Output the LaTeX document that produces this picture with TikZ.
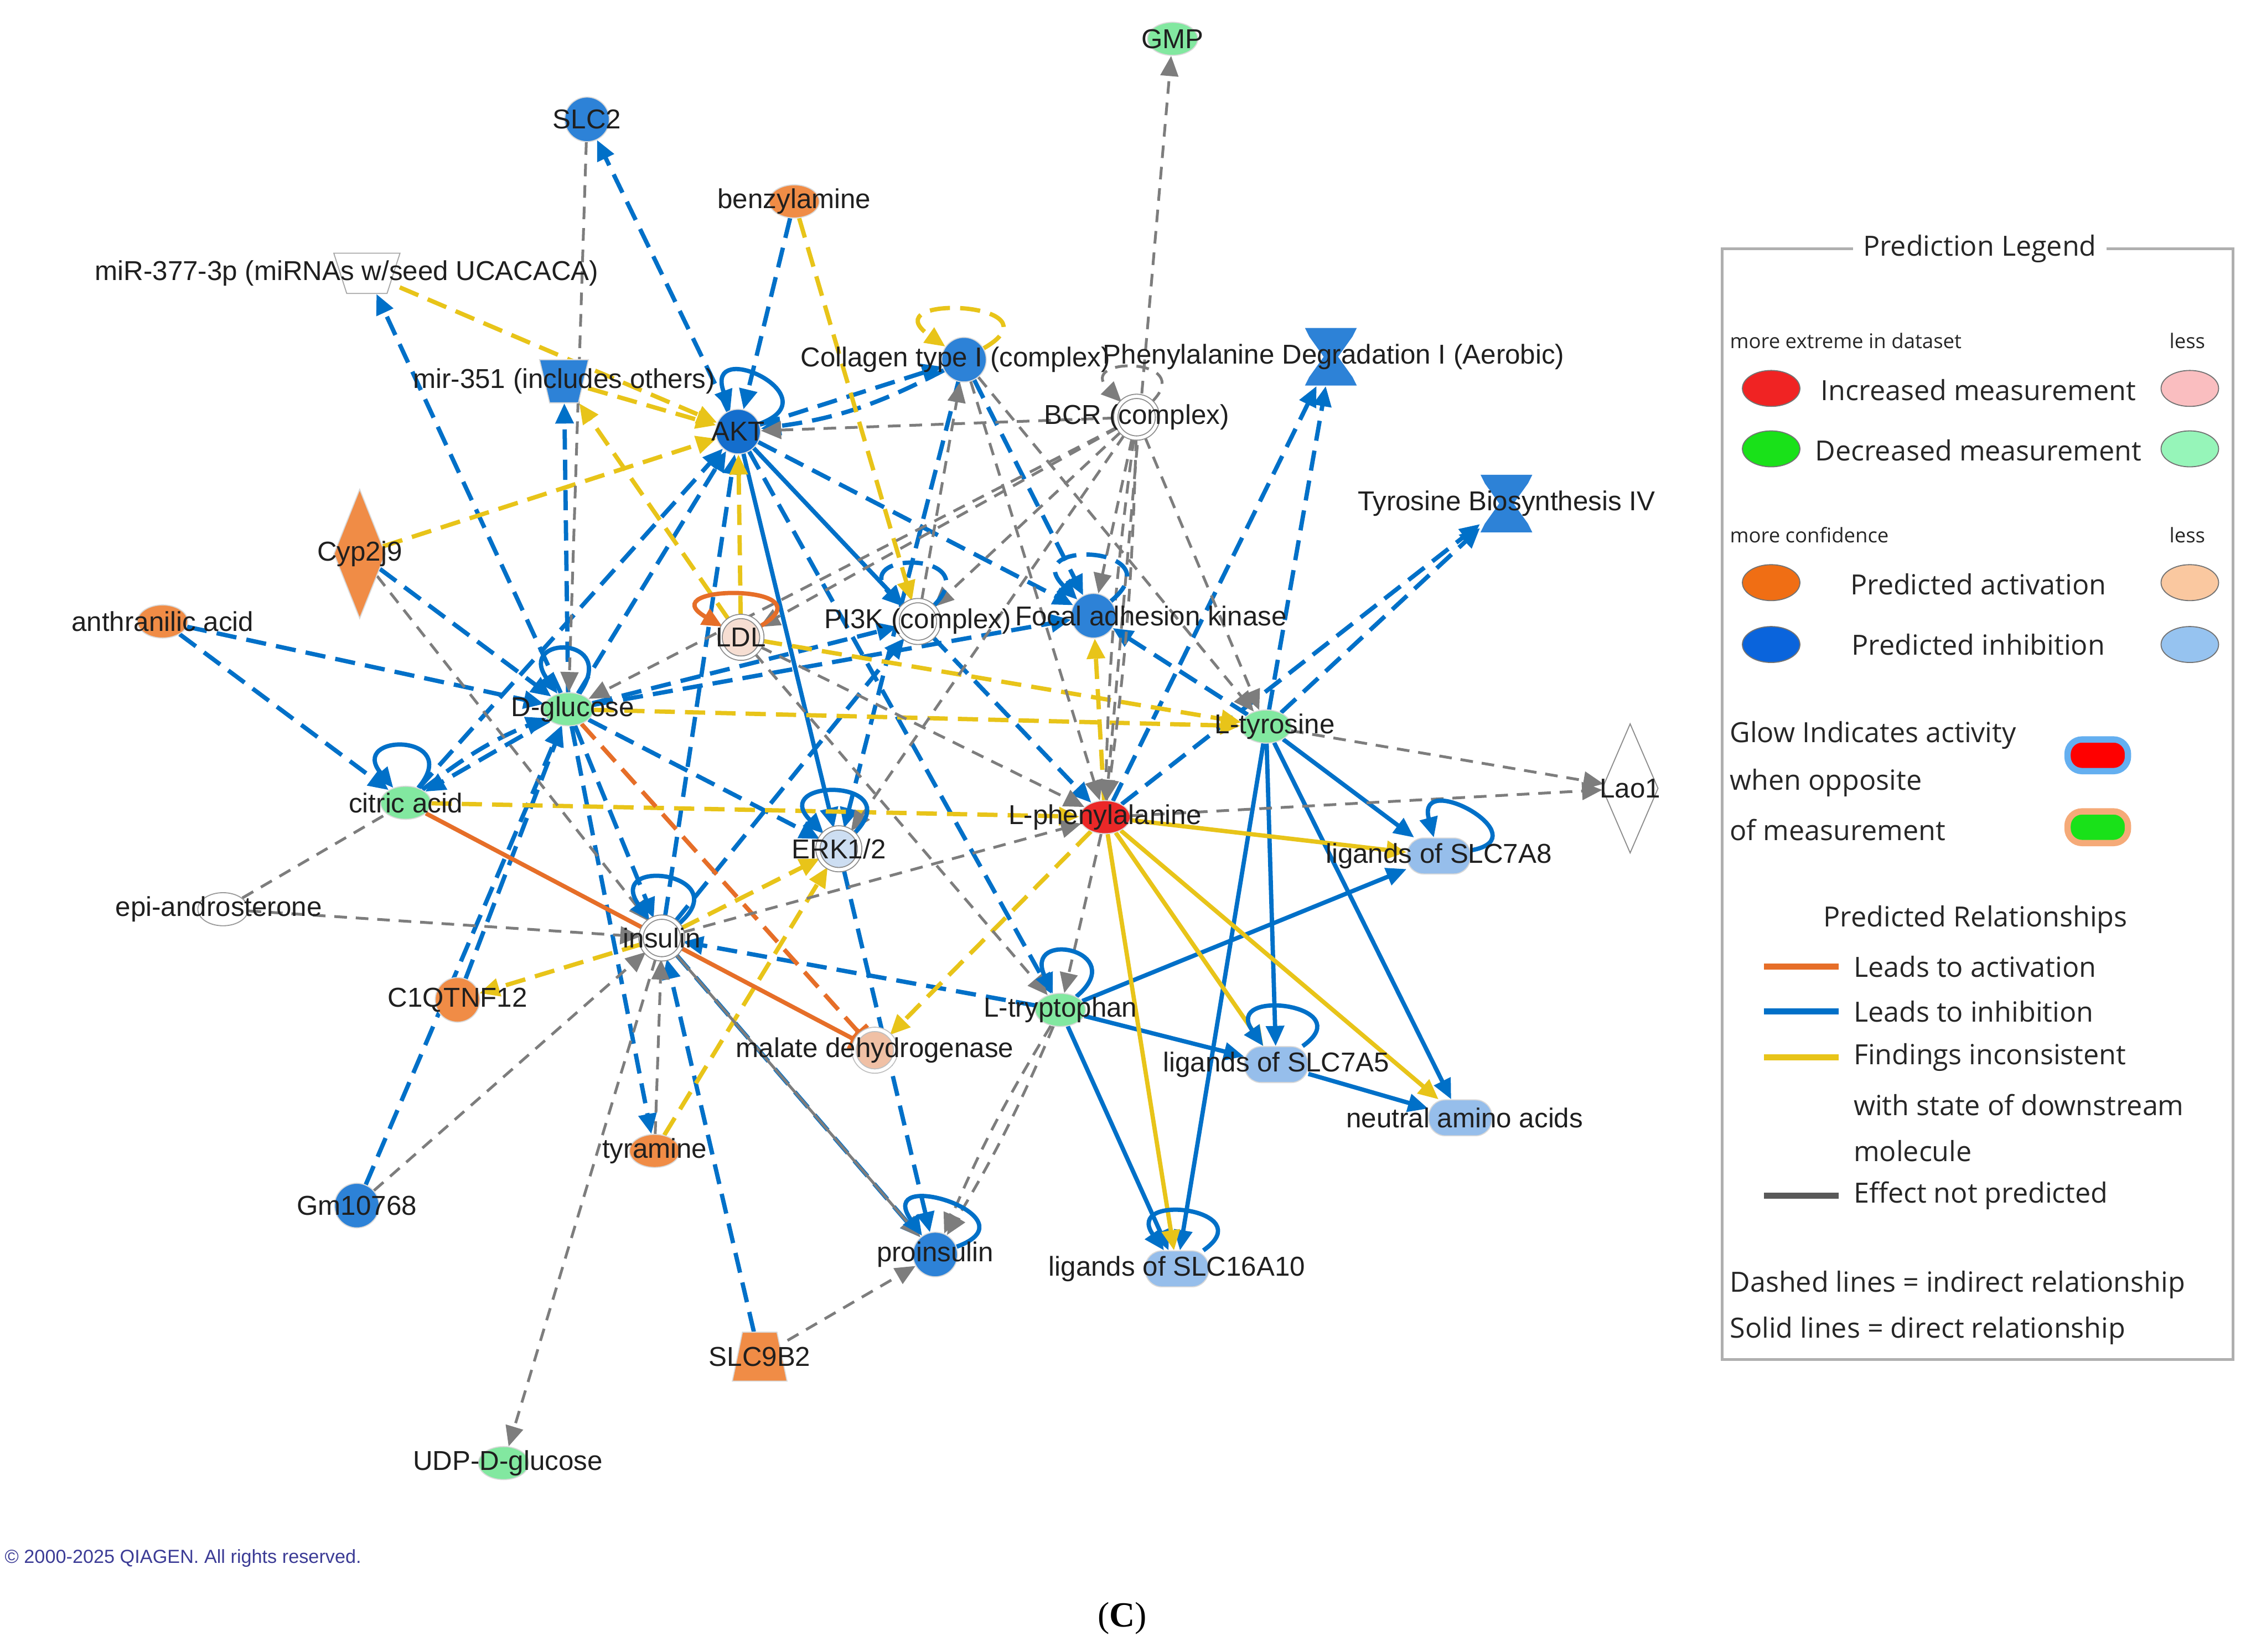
\documentclass[tikz,border=0pt]{standalone}
\usepackage{fontspec}
\setmainfont{Liberation Sans}
\newfontfamily\legfont{Open Sans}
\newfontfamily\capfont{Liberation Serif}
\usetikzlibrary{shapes,shapes.geometric,arrows.meta,positioning,calc}
\pgfdeclarelayer{background}
\pgfsetlayers{background,main}

\definecolor{eblue}{RGB}{0,112,200}
\definecolor{eyel}{RGB}{232,196,25}
\definecolor{eorg}{RGB}{230,110,40}
\definecolor{egray}{RGB}{125,125,125}
\definecolor{ndblue}{RGB}{20,110,205}
\definecolor{nblue}{RGB}{45,130,215}
\definecolor{nlblue}{RGB}{150,190,235}
\definecolor{nvlblue}{RGB}{205,222,242}
\definecolor{ngreen}{RGB}{130,232,160}
\definecolor{norange}{RGB}{240,140,70}
\definecolor{npeach}{RGB}{240,192,165}
\definecolor{nlpeach}{RGB}{246,222,210}
\definecolor{nred}{RGB}{235,40,40}
\definecolor{lred}{RGB}{240,35,35}
\definecolor{lpink}{RGB}{250,190,192}
\definecolor{lgreen}{RGB}{25,225,25}
\definecolor{llgreen}{RGB}{150,245,185}
\definecolor{lorange}{RGB}{240,110,20}
\definecolor{llorange}{RGB}{250,200,160}
\definecolor{lblue}{RGB}{10,100,220}
\definecolor{llblue}{RGB}{150,195,240}
\definecolor{glowblue}{RGB}{100,175,240}
\definecolor{gloworg}{RGB}{245,170,120}
\definecolor{copyblue}{RGB}{60,60,150}
\definecolor{legline}{RGB}{175,175,175}

\begin{document}
\begin{tikzpicture}[
    x=0.02cm, y=-0.02cm,
    >={Triangle[length=8pt,width=7pt]},
    lbl/.style={font=\fontsize{10.8}{12}\selectfont, text=black!88, inner sep=0pt},
    prot/.style={circle, minimum size=0.62cm, inner sep=0pt, draw=black!15},
    cplx/.style={circle, minimum size=0.58cm, inner sep=0pt, draw=black!45,
        double=white, double distance=1.3pt, fill=white},
    chem/.style={ellipse, minimum width=0.7cm, minimum height=0.46cm, inner sep=0pt, draw=black!15},
    group/.style={rectangle, rounded corners=0.23cm, minimum width=0.88cm,
        minimum height=0.5cm, inner sep=0pt, draw=black!15},
    diam/.style={diamond, minimum width=0.78cm, minimum height=1.8cm, inner sep=0pt, draw=black!45},
    glyph/.style={rectangle, minimum width=0.72cm, minimum height=0.8cm, inner sep=0pt},
    inhib/.style={draw=eblue, line width=1.7pt},
    activ/.style={draw=eorg, line width=1.7pt},
    incons/.style={draw=eyel, line width=1.7pt},
    nopred/.style={draw=egray, line width=1.1pt, dash pattern=on 5pt off 3.5pt},
    indir/.style={dash pattern=on 8pt off 4pt},
    legtext/.style={font=\legfont\fontsize{11}{13}\selectfont, text=black!85, inner sep=0pt},
    legsmall/.style={font=\legfont\fontsize{8}{9}\selectfont, text=black!85, inner sep=0pt},
    legov/.style={ellipse, minimum width=0.8cm, minimum height=0.5cm, inner sep=0pt, draw=black!55},
    glow/.style={rectangle, rounded corners=0.2cm, minimum width=0.84cm, minimum height=0.44cm,
        inner sep=0pt, line width=2.5pt}
    ]
    \useasboundingbox (0,0) rectangle (1568,1148);

    % pathway, microRNA and transporter glyphs
    \foreach \p in {(925,248),(1047,350)}
        \fill[nblue] \p ++(-18,-20) -- ++(36,0) -- ++(-3,6) -- ++(-10,14) -- ++(10,14)
            -- ++(3,6) -- ++(-36,0) -- ++(3,-6) -- ++(10,-14) -- ++(-10,-14) -- cycle;
    \filldraw[fill=white, draw=black!35] (255,190) ++(-23,-14) -- ++(46,0) -- ++(-9,28) -- ++(-28,0) -- cycle;
    \filldraw[fill=nblue, draw=black!15] (392,265) ++(-17,-15) -- ++(34,0) -- ++(-7,30) -- ++(-20,0) -- cycle;
    \filldraw[fill=norange, draw=black!15] (528,943) ++(-12,-17) -- ++(24,0) -- ++(7,34) -- ++(-38,0) -- cycle;

    % molecules
    \node[chem, fill=ngreen, label={[lbl]center:GMP}] (gmp) at (815,27) {};
    \node[prot, fill=nblue, label={[lbl]center:SLC2}] (slc2) at (408,83) {};
    \node[chem, fill=norange, label={[lbl]center:benzylamine}] (benz) at (552,140) {};
    \node[glyph, minimum width=0.9cm, minimum height=0.56cm,
        label={[lbl,xshift=-0.28cm]center:{miR-377-3p (miRNAs w/seed UCACACA)}}] (mir377) at (255,190) {};
    \node[glyph, minimum width=0.66cm, minimum height=0.6cm, label={[lbl]center:{mir-351 (includes others)}}] (mir351) at (392,265) {};
    \node[prot, fill=ndblue, label={[lbl]center:AKT}] (akt) at (513,300) {};
    \node[prot, fill=nblue, label={[lbl,xshift=-0.12cm]center:{Collagen type I (complex)}}] (coll) at (670,250) {};
    \node[glyph, label={[lbl,xshift=0.04cm]center:{Phenylalanine Degradation I (Aerobic)}}] (phedeg) at (925,248) {};
    \node[cplx, label={[lbl]center:{BCR (complex)}}] (bcr) at (790,290) {};
    \node[glyph, label={[lbl]center:{Tyrosine Biosynthesis IV}}] (tyrbio) at (1047,350) {};
    \node[diam, fill=norange, draw=black!15, minimum width=0.72cm, label={[lbl]center:Cyp2j9}] (cyp) at (250,385) {};
    \node[chem, fill=norange, label={[lbl]center:{anthranilic acid}}] (anth) at (113,432) {};
    \node[cplx, fill=nlpeach, label={[lbl]center:LDL}] (ldl) at (515,443) {};
    \node[cplx, label={[lbl]center:{PI3K (complex)}}] (pi3k) at (638,432) {};
    \node[prot, fill=nblue, label={[lbl,xshift=0.8cm]center:{Focal adhesion kinase}}] (fak) at (760,428) {};
    \node[chem, fill=ngreen, label={[lbl,xshift=0.06cm]center:D-glucose}] (dglu) at (395,493) {};
    \node[chem, fill=ngreen, label={[lbl,xshift=0.12cm]center:L-tyrosine}] (ltyr) at (880,505) {};
    \node[diam, fill=white, label={[lbl]center:Lao1}] (lao1) at (1133,548) {};
    \node[chem, fill=ngreen, label={[lbl]center:{citric acid}}] (citric) at (282,558) {};
    \node[cplx, fill=nvlblue, label={[lbl]center:ERK1/2}] (erk) at (583,590) {};
    \node[chem, fill=nred, label={[lbl]center:L-phenylalanine}] (lphe) at (768,568) {};
    \node[group, fill=nlblue, label={[lbl]center:{ligands of SLC7A8}}] (slc7a8) at (1000,595) {};
    \node[chem, fill=white, draw=black!40, label={[lbl,xshift=-0.06cm]center:epi-androsterone}] (epi) at (155,632) {};
    \node[cplx, label={[lbl]center:insulin}] (ins) at (460,652) {};
    \node[prot, fill=norange, label={[lbl]center:C1QTNF12}] (c1q) at (318,695) {};
    \node[chem, fill=ngreen, label={[lbl]center:L-tryptophan}] (ltrp) at (737,702) {};
    \node[cplx, fill=npeach, draw=black!25, label={[lbl]center:{malate dehydrogenase}}] (mdh) at (608,730) {};
    \node[group, fill=nlblue, label={[lbl]center:{ligands of SLC7A5}}] (slc7a5) at (887,740) {};
    \node[group, fill=nlblue, label={[lbl,xshift=0.06cm]center:{neutral amino acids}}] (naa) at (1015,777) {};
    \node[chem, fill=norange, label={[lbl]center:tyramine}] (tyra) at (455,800) {};
    \node[prot, fill=nblue, label={[lbl]center:Gm10768}] (gm) at (248,838) {};
    \node[prot, fill=nblue, label={[lbl]center:proinsulin}] (proins) at (650,872) {};
    \node[group, fill=nlblue, label={[lbl]center:{ligands of SLC16A10}}] (slc16) at (818,882) {};
    \node[glyph, minimum width=0.76cm, minimum height=0.68cm, label={[lbl]center:SLC9B2}] (slc9b2) at (528,943) {};
    \node[chem, fill=ngreen, label={[lbl,xshift=0.06cm]center:UDP-D-glucose}] (udp) at (350,1017) {};

    \begin{pgfonlayer}{background}
    \fill[white] (0,0) rectangle (1568,1148);
    % leads to inhibition, indirect
    \draw[inhib,indir,->] (akt) -- (slc2);
    \draw[inhib,indir,->] (dglu) -- (mir377);
    \draw[inhib,indir,->] (dglu) -- (mir351);
    \draw[inhib,indir,->] (cyp) -- (dglu);
    \draw[inhib,indir,->] (anth) -- (dglu);
    \draw[inhib,indir,->] (anth) -- (citric);
    \draw[inhib,indir,->] (benz) -- (akt);
    \draw[inhib,indir,->] (akt) -- (coll);
    \draw[inhib,indir,->] (coll) to[bend left=10] (akt);
    \draw[inhib,indir,->] (akt) -- (fak);
    \draw[inhib,indir,->] (dglu) -- (akt);
    \draw[inhib,indir,->] (citric) -- (akt);
    \draw[inhib,indir,->] (ins) -- (akt);
    \draw[inhib,indir,->] (dglu) -- (citric);
    \draw[inhib,indir,->] (citric) to[bend left=8] (dglu);
    \draw[inhib,indir,->] (dglu) -- (ins);
    \draw[inhib,indir,->] (dglu) -- (erk);
    \draw[inhib,indir,->] (dglu) -- (pi3k);
    \draw[inhib,indir,->] (dglu) -- (fak);
    \draw[inhib,indir,->] (ins) -- (pi3k);
    \draw[inhib,indir,->] (c1q) -- (dglu);
    \draw[inhib,indir,->] (gm) -- (dglu);
    \draw[inhib,indir,->] (dglu) -- (tyra);
    \draw[inhib,indir,->] (slc9b2) -- (ins);
    \draw[inhib,indir,->] (ins) -- (proins);
    \draw[inhib,indir,->] (erk) -- (proins);
    \draw[inhib,indir,->] (ltrp) -- (ins);
    \draw[inhib,indir,->] (coll) -- (fak);
    \draw[inhib,indir,->] (coll) -- (erk);
    \draw[inhib,indir,->] (pi3k) -- (lphe);
    \draw[inhib,indir,->] (akt) -- (ltrp);
    \draw[inhib,indir,->] (ltyr) -- (fak);
    \draw[inhib,indir,->] (ltyr) -- (phedeg);
    \draw[inhib,indir,->] (lphe) -- (phedeg);
    \draw[inhib,indir,->] (ltyr) -- (tyrbio);
    \draw[inhib,indir,->] (lphe) -- (tyrbio);
    % leads to inhibition, direct
    \draw[inhib,->] (akt) -- (pi3k);
    \draw[inhib,->] (akt) -- (erk);
    \draw[inhib,->] (ltyr) -- (slc7a8);
    \draw[inhib,->] (ltyr) -- (slc7a5);
    \draw[inhib,->] (ltyr) -- (slc16);
    \draw[inhib,->] (ltyr) -- (naa);
    \draw[inhib,->] (ltrp) -- (slc7a8);
    \draw[inhib,->] (ltrp) -- (slc7a5);
    \draw[inhib,->] (ltrp) -- (slc16);
    \draw[inhib,->] (slc7a5) -- (naa);
    % findings inconsistent
    \draw[incons,indir,->] (mir377) -- (akt);
    \draw[incons,indir,->] (mir351) -- (akt);
    \draw[incons,indir,->] (cyp) -- (akt);
    \draw[incons,indir,->] (ldl) -- (mir351);
    \draw[incons,indir,->] (benz) -- (pi3k);
    \draw[incons,indir,->] (ldl) -- (akt);
    \draw[incons,indir,->] (tyra) -- (erk);
    \draw[incons,indir,->] (ins) -- (c1q);
    \draw[incons,indir,->] (ins) -- (erk);
    \draw[incons,indir,->] (lphe) -- (mdh);
    \draw[incons,indir,->] (lphe) -- (fak);
    \draw[incons,indir,->] (ldl) -- (ltyr);
    \draw[incons,indir,->] (citric) -- (lphe);
    \draw[incons,indir,->] (dglu) -- (ltyr);
    \draw[incons,->] (lphe) -- (slc7a8);
    \draw[incons,->] (lphe) -- (slc7a5);
    \draw[incons,->] (lphe) -- (naa);
    \draw[incons,->] (lphe) -- (slc16);
    % leads to activation
    \draw[activ,-{Bar[width=9pt]}] (citric) -- (mdh);
    \draw[activ,indir,-{Bar[width=9pt]}] (dglu) -- (mdh);
    % effect not predicted
    \draw[nopred,->] (slc2) -- (dglu);
    \draw[nopred,->] (cyp) -- (ins);
    \draw[nopred,->] (bcr) -- (akt);
    \draw[nopred,->] (lphe) -- (gmp);
    \draw[nopred,->] (pi3k) -- (coll);
    \draw[nopred,->] (bcr) -- (pi3k);
    \draw[nopred,->] (bcr) -- (ldl);
    \draw[nopred,->] (bcr) -- (dglu);
    \draw[nopred,->] (bcr) -- (fak);
    \draw[nopred,->] (bcr) -- (erk);
    \draw[nopred,->] (bcr) to[bend left=3] (lphe);
    \draw[nopred,->] (bcr) to[bend right=3] (lphe);
    \draw[nopred,->] (bcr) -- (ltyr);
    \draw[nopred,->] (coll) -- (ltyr);
    \draw[nopred,->] (coll) -- (lphe);
    \draw[nopred,->] (ltyr) -- (lao1);
    \draw[nopred,->] (lphe) -- (lao1);
    \draw[nopred,->] (lphe) -- (ltrp);
    \draw[nopred,->] (ltrp) to[bend left=4] (proins);
    \draw[nopred,->] (ltrp) to[bend right=4] (proins);
    \draw[nopred,->] (slc9b2) -- (proins);
    \draw[nopred,->] (ins) -- (udp);
    \draw[nopred,->] (tyra) -- (ins);
    \draw[nopred] (epi) -- (citric);
    \draw[nopred,->] (epi) -- (ins);
    \draw[nopred,->] (gm) -- (ins);
    \draw[nopred,->] (ins) -- (lphe);
    \draw[nopred,->] (ldl) -- (ltrp);
    \draw[nopred,->] (ldl) -- (lphe);
    \draw[nopred,solid,->] (ins) -- (proins);
    % self loops
    \draw[inhib,->] (akt) to[out=20,in=110,min distance=1.1cm] (akt);
    \draw[inhib,->] (dglu) to[out=55,in=125,min distance=1cm] (dglu);
    \draw[inhib,->] (citric) to[out=50,in=130,min distance=1cm] (citric);
    \draw[inhib,->] (ins) to[out=40,in=125,min distance=1.1cm] (ins);
    \draw[inhib,->] (erk) to[out=45,in=135,min distance=1.1cm] (erk);
    \draw[inhib,indir,->] (fak) to[out=40,in=135,min distance=1.2cm] (fak);
    \draw[inhib,indir,->] (pi3k) to[out=45,in=135,min distance=1.1cm] (pi3k);
    \draw[activ,->] (ldl) to[out=30,in=150,min distance=1.2cm] (ldl);
    \draw[incons,indir,->] (coll) to[out=30,in=145,min distance=1.3cm] (coll);
    \draw[nopred,->] (bcr) to[out=45,in=135,min distance=0.9cm] (bcr);
    \draw[inhib,->] (ltrp) to[out=40,in=115,min distance=1cm] (ltrp);
    \draw[inhib,->] (proins) to[out=20,in=125,min distance=1.2cm] (proins);
    \draw[inhib,->] (slc7a8) to[out=10,in=105,min distance=1cm] (slc7a8);
    \draw[inhib,->] (slc7a5) to[out=35,in=125,min distance=1cm] (slc7a5);
    \draw[inhib,->] (slc16) to[out=35,in=125,min distance=1cm] (slc16);
    \end{pgfonlayer}

    % legend
    \draw[draw=legline, line width=1.2pt] (1197,173) rectangle (1552,945);
    \node[legtext, fill=white, inner xsep=4pt] (lgtitle) at (1376,173) {Prediction Legend};
    \node[legsmall, anchor=west] (lgext) at (1202,237) {more extreme in dataset};
    \node[legsmall, anchor=east] (lgless1) at (1533,237) {less};
    \node[legov, fill=lred] (lgred) at (1231,270) {};
    \node[legtext] (lginc) at (1375,271) {Increased measurement};
    \node[legov, fill=lpink] (lgpink) at (1522,270) {};
    \node[legov, fill=lgreen] (lggreen) at (1231,312) {};
    \node[legtext] (lgdec) at (1375,313) {Decreased measurement};
    \node[legov, fill=llgreen] (lglgreen) at (1522,312) {};
    \node[legsmall, anchor=west] (lgconf) at (1202,372) {more confidence};
    \node[legsmall, anchor=east] (lgless2) at (1533,372) {less};
    \node[legov, fill=lorange] (lgorange) at (1231,405) {};
    \node[legtext] (lgact) at (1375,406) {Predicted activation};
    \node[legov, fill=llorange] (lglorange) at (1522,405) {};
    \node[legov, fill=lblue] (lgblue) at (1231,448) {};
    \node[legtext] (lginh) at (1375,448) {Predicted inhibition};
    \node[legov, fill=llblue] (lglblue) at (1522,448) {};
    \node[legtext, anchor=west] (lgglow1) at (1202,511) {Glow Indicates activity};
    \node[legtext, anchor=west] (lgglow2) at (1202,544) {when opposite};
    \node[legtext, anchor=west] (lgglow3) at (1202,577) {of measurement};
    \node[glow, fill=red, draw=glowblue] (lgglowr) at (1458,525) {};
    \node[glow, fill=lgreen, draw=gloworg] (lgglowg) at (1458,575) {};
    \node[legtext] (lgrel) at (1373,639) {Predicted Relationships};
    \draw[activ, line width=2.4pt] (1226,672) -- (1278,672);
    \draw[inhib, line width=2.4pt] (1226,703) -- (1278,703);
    \draw[incons, line width=2.4pt] (1226,735) -- (1278,735);
    \draw[draw=black!65, line width=2.4pt] (1226,831) -- (1278,831);
    \node[legtext, anchor=west] (lgla) at (1288,672) {Leads to activation};
    \node[legtext, anchor=west] (lgli) at (1288,703) {Leads to inhibition};
    \node[legtext, anchor=west] (lgfi1) at (1288,735) {Findings inconsistent};
    \node[legtext, anchor=west] (lgfi2) at (1288,768) {with state of downstream};
    \node[legtext, anchor=west] (lgfi3) at (1288,800) {molecule};
    \node[legtext, anchor=west] (lgen) at (1288,831) {Effect not predicted};
    \node[legtext, anchor=west] (lgdash) at (1202,893) {Dashed lines = indirect relationship};
    \node[legtext, anchor=west] (lgsolid) at (1202,925) {Solid lines = direct relationship};

    \node[anchor=west, inner sep=0pt, font=\fontsize{7.5}{9}\selectfont, text=copyblue] (copy)
        at (3,1083) {© 2000-2025 QIAGEN. All rights reserved.};
    \node[font=\capfont\fontsize{14}{16}\selectfont] (panel) at (780,1125) {(\textbf{C})};
\end{tikzpicture}
\end{document}
